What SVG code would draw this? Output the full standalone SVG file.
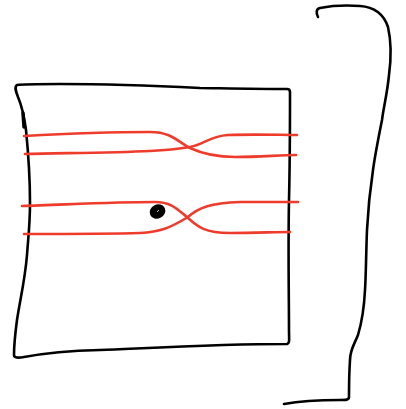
<svg xmlns="http://www.w3.org/2000/svg" width="406" height="409" viewBox="0 0 406 409">
<style>
.k{fill:none;stroke:#000;stroke-width:2.6;stroke-linecap:round;stroke-linejoin:round}
.r{fill:none;stroke:#ee3b2b;stroke-width:2.6;stroke-linecap:round;stroke-linejoin:round}
</style>
<rect width="406" height="409" fill="#fff"/>
<g id="box">
<path class="k" d="M287,89 C250,89 210,88 200,88 C160,86 110,84 60,84 C40,84 22,84 17,85 C14,87 16,92 18,97 C21,104 24,115 26,130 C28,150 30,180 30,203 C30,225 28,240 27,255 C25,280 20,300 17,320 C15,335 14,350 14,355 C14,358 18,358 24,357 C40,354 60,351 100,350 C150,348 220,344 287,344 C290,343 289,340 289,330 C289,300 288,250 289,200 C290,160 290,110 290,92 C290,90 289,89 287,89 Z"/>
<path class="k" d="M23,113 L24,127" style="stroke-width:3.5"/>
</g>
<g id="strands">
<path class="r" d="M24,136 C60,134 110,132 150,132 C172,132 178,142 190,148 C203,154 215,157 235,157 C260,157 280,155 296,155"/>
<path class="r" d="M25,154 C60,153 110,153 150,151 C170,150 178,149 190,147 C205,144 210,136 228,135 C255,134 280,135 297,135"/>
<path class="r" d="M22,206 C60,205 110,202 155,202 C172,202 178,210 188,218 C198,227 205,233 230,233 C255,233 275,232 290,232"/>
<path class="r" d="M24,234 C60,234 110,234 140,233 C160,232 170,228 188,217 C198,208 210,203 240,202 C265,202 285,202 298,202"/>
</g>
<g id="dot">
<ellipse cx="157.5" cy="211.5" rx="8" ry="7" transform="rotate(-25 157.5 211.5)" fill="#000"/>
<path d="M157,212 L159,210" stroke="#fff" stroke-width="0.8" fill="none"/>
</g>
<g id="bracket">
<path class="k" d="M318,17 C316,13 316,9 320,8 C330,6 345,5 360,6 C375,7 384,15 388,27 C391,40 391,60 389,75 C387,95 384,105 382,120 C378,140 375,155 373,170 C370,190 368,210 367,230 C366,255 366,275 365,290 C364,310 361,325 358,335 C354,345 350,350 350,360 C349,375 349,390 349,397 C349,400 346,400 340,400 C320,400 300,401 284,404"/>
</g>
</svg>
